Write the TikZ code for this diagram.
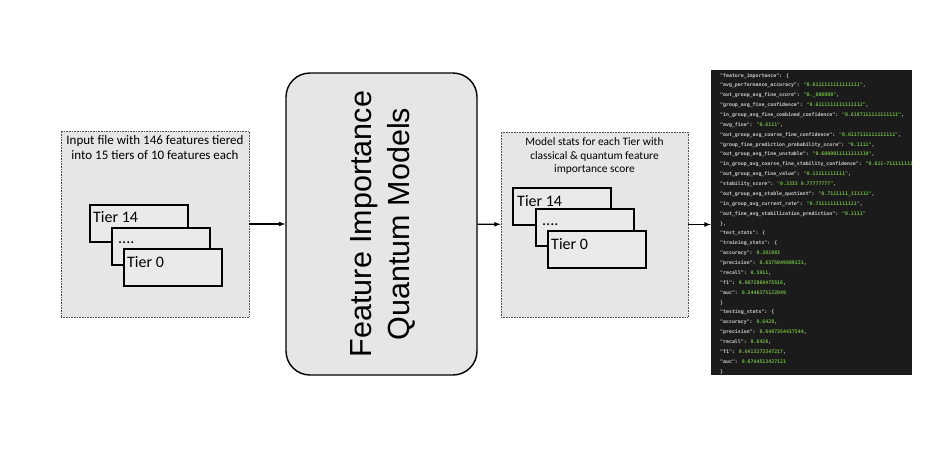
\documentclass[tikz,border=0pt]{standalone}
\usepackage{fontspec}
\setmainfont{Carlito}
\newfontfamily\arialfont{Liberation Sans}
\newfontfamily\codefont{DejaVu Sans Mono}
\usetikzlibrary{positioning}

\definecolor{panelgray}{HTML}{E6E6E6}
\definecolor{tiergray}{HTML}{EAEAEA}
\definecolor{codebg}{HTML}{1B1B1B}
\definecolor{codekey}{HTML}{C8C8C8}
\definecolor{codeval}{HTML}{6FB83E}

\newcommand{\jkey}[1]{\textcolor{codekey}{#1}}
\newcommand{\jval}[1]{\textcolor{codeval}{#1}}

\begin{document}
\begin{tikzpicture}[>=latex, x=1pt, y=-1pt,
    panel/.style={draw=black!70, densely dotted, line width=0.6pt, fill=panelgray, inner sep=0pt},
    tierbox/.style={draw, line width=1.6pt, fill=tiergray, minimum width=98pt, minimum height=37pt, anchor=north west, inner sep=0pt},
    tiertext/.style={inner sep=0pt, font=\fontsize{16}{19}\selectfont},
    codetext/.style={anchor=base west, inner sep=0pt, font=\codefont\bfseries\fontsize{4.9}{6}\selectfont, text=codekey},
    link/.style={->, line width=1.2pt}]
    \fill[white] (0,0) rectangle (952,458);
    \useasboundingbox (0,0) rectangle (952,458);

    % input panel
    \node[panel, minimum width=188pt, minimum height=186pt] (inbox) at (155,224) {};
    \node[anchor=north, inner sep=0pt, align=center, font=\fontsize{13}{15}\selectfont] (intext)
        at ([yshift=-5pt]inbox.north) {Input file with 146 features tiered\\into 15 tiers of 10 features each};
    \node[tierbox] (intop) at (89,204) {};
    \node[tierbox] (inmid) at (111,227) {};
    \node[tierbox] (inbot) at (123,248) {};
    \node[tiertext, anchor=north west] (intoplabel) at ([shift={(4,7)}]intop.north west) {Tier 14};
    \node[tiertext, anchor=base west] (inmiddots) at ([shift={(7,16)}]inmid.north west) {....};
    \node[tiertext, anchor=north west] (inbotlabel) at ([shift={(4,8)}]inbot.north west) {Tier 0};

    % model box
    \node[draw, line width=1.4pt, rounded corners=24pt, fill=panelgray, minimum width=191pt, minimum height=302pt] (model) at (381.5,224) {};
    \node[rotate=90, align=center, inner sep=0pt, font=\arialfont\fontsize{30.5}{38}\selectfont] (modellabel)
        at ([xshift=1.5pt]model.center) {Feature Importance\\Quantum Models};

    % stats panel
    \node[panel, minimum width=187pt, minimum height=185pt] (statsbox) at (594.5,224.5) {};
    \node[anchor=north, inner sep=0pt, align=center, font=\fontsize{11.4}{13.5}\selectfont] (statstext)
        at ([yshift=-6pt]statsbox.north) {Model stats for each Tier with\\classical \& quantum feature\\importance score};
    \node[tierbox] (sttop) at (512,187) {};
    \node[tierbox] (stmid) at (535,208) {};
    \node[tierbox] (stbot) at (547,230) {};
    \node[tiertext, anchor=north west] (sttoplabel) at ([shift={(5,8)}]sttop.north west) {Tier 14};
    \node[tiertext, anchor=base west] (stmiddots) at ([shift={(7,17)}]stmid.north west) {....};
    \node[tiertext, anchor=north west] (stbotlabel) at ([shift={(4,8)}]stbot.north west) {Tier 0};

    % json output
    \node[fill=codebg, minimum width=201pt, minimum height=305pt, inner sep=0pt] (code) at (811.5,222.5) {};
    \begin{scope}
        \clip (code.north west) rectangle (code.south east);
        \foreach \codeln [count=\n] in {
            {\jkey{"feature\_importance":} \{},
            {\jkey{"avg\_performance\_accuracy":} \jval{"0.6111111111111111"},},
            {\jkey{"out\_group\_avg\_fine\_score":} \jval{"0.\_800000"},},
            {\jkey{"group\_avg\_fine\_confidence":} \jval{"0.6111111111111112"},},
            {\jkey{"in\_group\_avg\_fine\_combined\_confidence":} \jval{"0.6187111111111111"},},
            {\jkey{"avg\_fine":} \jval{"0.6111"},},
            {\jkey{"out\_group\_avg\_coarse\_fine\_confidence":} \jval{"0.6117111111111111"},},
            {\jkey{"group\_fine\_prediction\_probability\_score":} \jval{"0.1111"},},
            {\jkey{"out\_group\_avg\_fine\_unstable":} \jval{"0.6000011111111119"},},
            {\jkey{"in\_group\_avg\_coarse\_fine\_stability\_confidence":} \jval{"0.611-71111111111"},},
            {\jkey{"out\_group\_avg\_fine\_value":} \jval{"0.11111111111"},},
            {\jkey{"stability\_score":} \jval{"0.3333 0.77777777"},},
            {\jkey{"out\_group\_avg\_stable\_quotient":} \jval{"0.7111111\_111111"},},
            {\jkey{"in\_group\_avg\_current\_rate":} \jval{"0.71111111111111"},},
            {\jkey{"out\_fine\_avg\_stabilization\_prediction":} \jval{"0.1111"}},
            {\},},
            {\jkey{"test\_stats":} \{},
            {\jkey{"training\_stats":} \{},
            {\jkey{"accuracy":} \jval{0.381083}},
            {\jkey{"precision":} \jval{0.6375049989131},},
            {\jkey{"recall":} \jval{0.5911},},
            {\jkey{"f1":} \jval{0.6072869475516},},
            {\jkey{"auc":} \jval{0.5446375122049}},
            {\}},
            {\jkey{"testing\_stats":} \{},
            {\jkey{"accuracy":} \jval{0.6428},},
            {\jkey{"precision":} \jval{0.6407354417544},},
            {\jkey{"recall":} \jval{0.6428},},
            {\jkey{"f1":} \jval{0.6413273347217},},
            {\jkey{"auc":} \jval{0.6744513427121}},
            {\}}%
        }{
            \node[codetext] (c\n) at (720,{77+9.87*(\n-1)}) {\codeln};
        }
    \end{scope}

    % connectors
    \draw[link] (inbox) -- (model);
    \draw[link] (model) -- (statsbox);
    \draw[link] (statsbox.east) -- (statsbox.east -| code.west);
\end{tikzpicture}
\end{document}
